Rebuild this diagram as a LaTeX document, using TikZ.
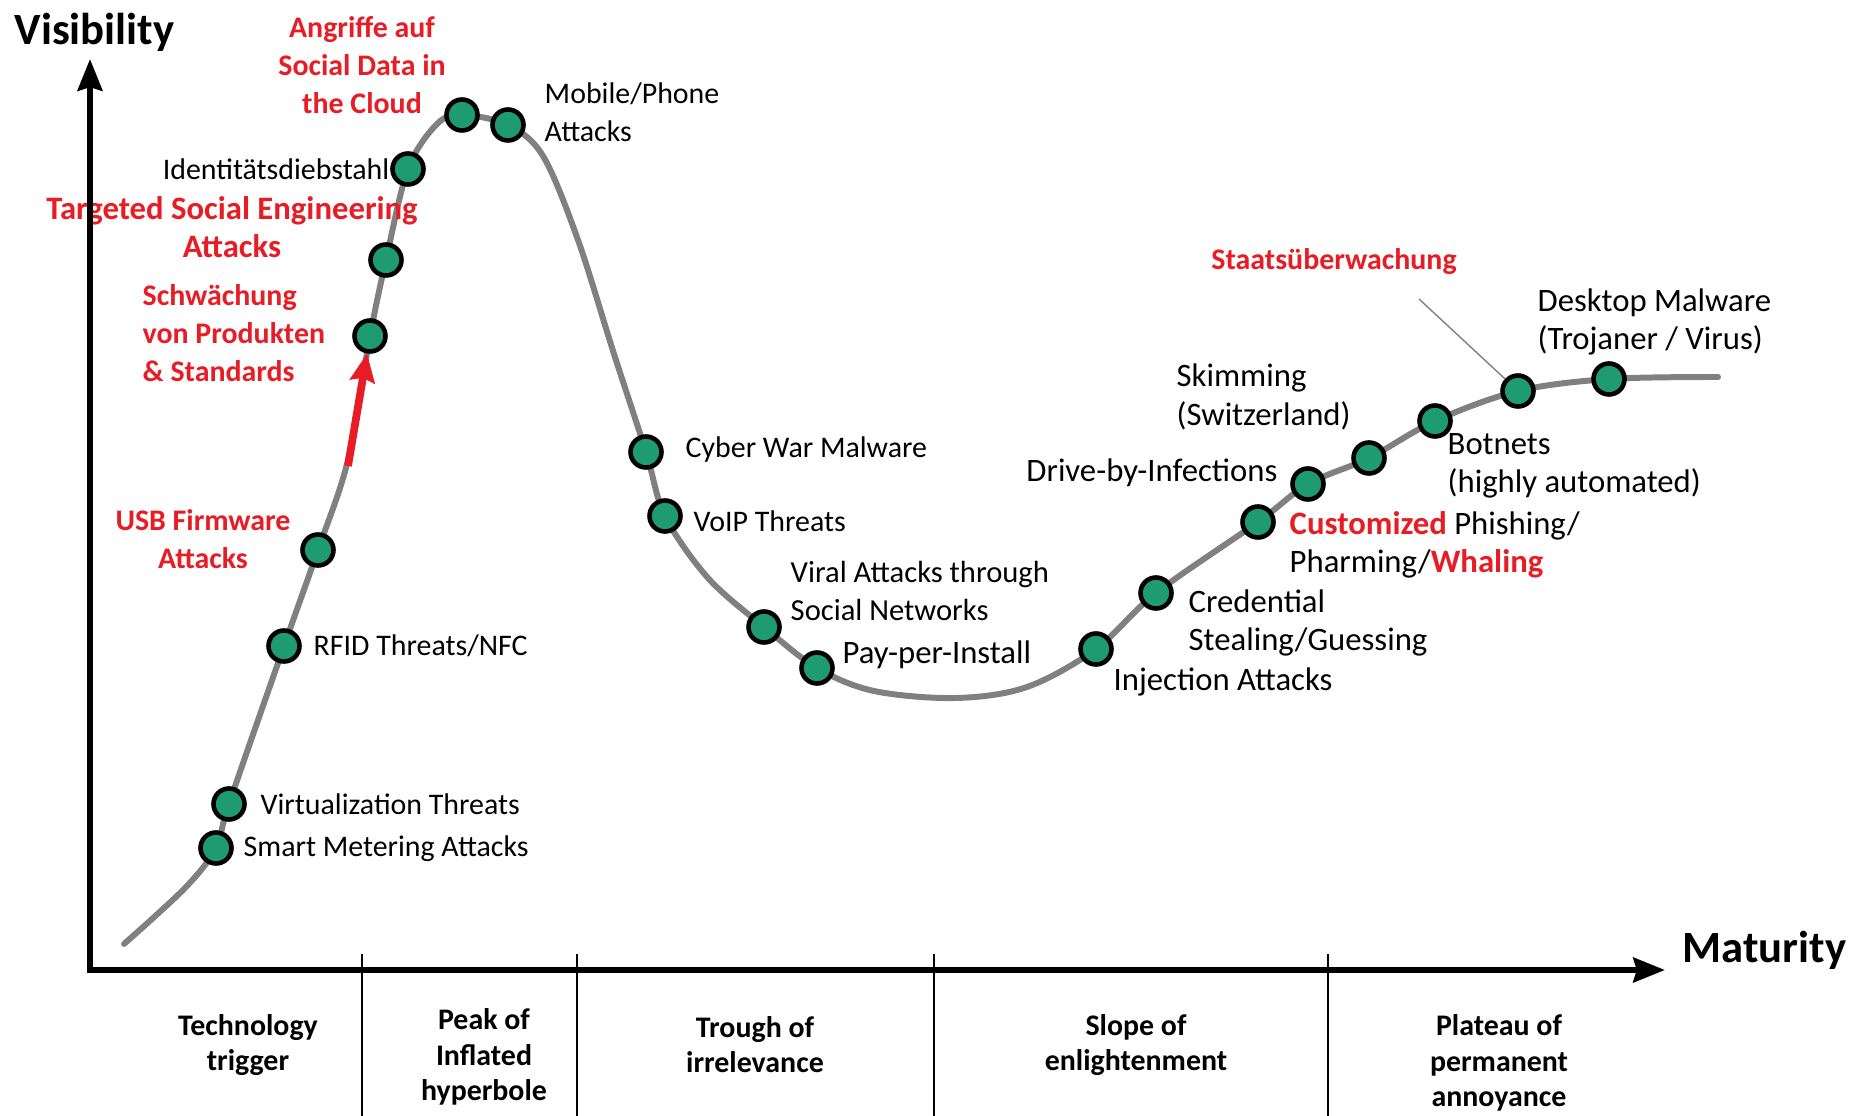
\documentclass[tikz,border=0pt]{standalone}
\usepackage{fontspec}
\setmainfont{Carlito}
\usepackage{xcolor}
\usetikzlibrary{arrows.meta}
\definecolor{dotgreen}{RGB}{30,155,112}
\definecolor{hotred}{RGB}{232,28,36}
\newcommand{\hot}[1]{\textcolor{hotred}{\textbf{#1}}}

\begin{document}
\begin{tikzpicture}[x=0.01cm, y=-0.01cm, >={Stealth[length=9pt,width=7pt,inset=1pt]},
        font=\fontsize{8.5}{10.8}\selectfont,
        dot/.style={circle, draw=black, line width=1.3pt, fill=dotgreen, inner sep=0pt, minimum size=0.31cm},
        lbl/.style={draw=none, inner sep=0pt, align=left},
        biglbl/.style={lbl, font=\fontsize{9.3}{10.9}\selectfont},
        redlbl/.style={draw=none, inner sep=0pt, align=center, text=hotred, font=\fontsize{8.5}{10.9}\selectfont\bfseries},
        phase/.style={draw=none, inner sep=0pt, align=center, font=\fontsize{8.5}{10}\selectfont\bfseries},
        axislbl/.style={draw=none, inner sep=0pt, anchor=west, font=\fontsize{12.7}{14}\selectfont\bfseries}]
        \useasboundingbox (0,0) rectangle (1851,1116);
        % hype curve
        \draw[gray, line width=1.7pt, line cap=round] plot[smooth, tension=0.55] coordinates {
            (124,944) (185,888) (216,848) (229,804) (284,646) (318,550) (348,460) (370,336)
            (386,260) (408,169) (437,124) (462,115) (508,125) (543,156) (578,240) (614,354)
            (646,452) (665,516) (708,578) (764,627) (817,668) (874,691) (956,698) (1027,687)
            (1096,649) (1156,593) (1258,522) (1308,484) (1369,458) (1435,421) (1518,391)
            (1609,379) (1718,377)};
        % dots on the curve
        \foreach \n/\x/\y in {smart/216/848, virt/229/804, rfid/284/646, usb/318/550,
                schw/370/336, target/386/260, ident/408/169, cloud/462/115, mobile/508/125,
                cyber/646/452, voip/665/516, viral/764/627, ppi/817/668, inject/1096/649,
                cred/1156/593, custom/1258/522, drive/1308/484, skim/1369/458,
                botnet/1435/421, staat/1518/391, desk/1609/379} {
            \node[dot] (\n) at (\x,\y) {};
        }
        % labels
        \node[lbl, anchor=west] (smartlbl) at (243,849) {Smart Metering Attacks};
        \node[lbl, anchor=west] (virtlbl) at (260,804) {Virtualization Threats};
        \node[lbl, anchor=west] (rfidlbl) at (313,646) {RFID Threats/NFC};
        \node[redlbl] (usblbl) at (203,539) {USB Firmware\\Attacks};
        \node[redlbl, align=left, anchor=west] (schwlbl) at (142,333) {Schwächung\\von Produkten\\\& Standards};
        \node[redlbl, font=\fontsize{9.3}{10.9}\selectfont\bfseries] (targetlbl) at (232,227) {Targeted Social Engineering\\Attacks};
        \node[lbl, anchor=east] (identlbl) at (390,169) {Identitätsdiebstahl};
        \node[redlbl] (cloudlbl) at (362,65) {Angriffe auf\\Social Data in\\the Cloud};
        \node[lbl, anchor=west] (mobilelbl) at (544,112) {Mobile/Phone\\Attacks};
        \node[lbl, anchor=west] (cyberlbl) at (685,450) {Cyber War Malware};
        \node[lbl, anchor=west] (voiplbl) at (693,521) {VoIP Threats};
        \node[lbl, anchor=west, font=\fontsize{8.7}{10.8}\selectfont] (virallbl) at (790,591) {Viral Attacks through\\Social Networks};
        \node[biglbl, anchor=west] (ppilbl) at (842,655) {Pay-per-Install};
        \node[biglbl, anchor=west] (injectlbl) at (1113,682) {Injection Attacks};
        \node[biglbl, anchor=west] (credlbl) at (1188,623) {Credential\\Stealing/Guessing};
        \node[biglbl, anchor=east] (drivelbl) at (1278,473) {Drive-by-Infections};
        \node[biglbl, anchor=west] (customlbl) at (1289,545) {\hot{Customized} Phishing/\\Pharming/\hot{Whaling}};
        \node[biglbl, anchor=west] (skimlbl) at (1176,397) {Skimming\\(Switzerland)};
        \node[biglbl, anchor=west] (botnetlbl) at (1447,466) {Botnets\\(highly automated)};
        \node[redlbl] (staatlbl) at (1334,262) {Staatsüberwachung};
        \node[biglbl, anchor=west] (desklbl) at (1537,322) {Desktop Malware\\(Trojaner / Virus)};
        \coordinate (staattail) at (1419,299);
        \draw[gray, line width=0.4pt] (staattail) -- (staat);
        \coordinate (push) at (348,466);
        \draw[-{Stealth[length=8pt,width=7pt,inset=1pt]}, hotred, line width=2.2pt] (push) -- (schw);
        % axes
        \coordinate (O) at (90,970);
        \coordinate (ytop) at (90,59);
        \coordinate (xend) at (1665,970);
        \draw[<->, line width=1.7pt] (ytop) -- (O) -- (xend);
        \node[axislbl] (vis) at (14,32) {Visibility};
        \node[axislbl] (mat) at (1682,950) {Maturity};
        % phases
        \foreach \x in {362, 577, 934, 1328} {
            \draw[line width=0.5pt] (\x,954) -- (\x,1116);
        }
        \node[phase] (trigger) at (248,1045) {Technology\\trigger};
        \node[phase] (peak) at (484,1057) {Peak of\\Inflated\\hyperbole};
        \node[phase] (trough) at (755,1045) {Trough of\\irrelevance};
        \node[phase] (slope) at (1136,1045) {Slope of\\enlightenment};
        \node[phase] (plateau) at (1499,1063) {Plateau of\\permanent\\annoyance};
\end{tikzpicture}
\end{document}
